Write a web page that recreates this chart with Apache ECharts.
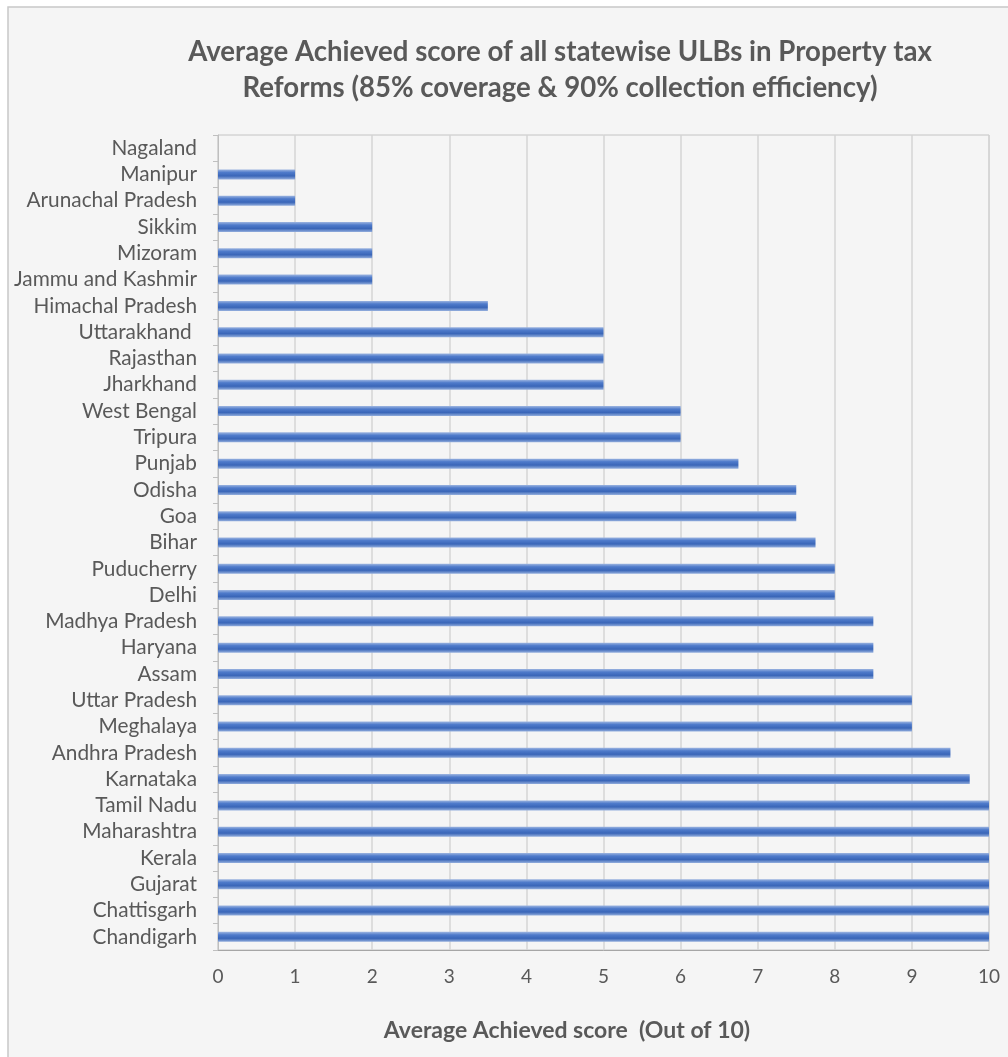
<!DOCTYPE html>
<html>
<head>
<meta charset="utf-8">
<script src="https://cdn.jsdelivr.net/npm/echarts@6/dist/echarts.min.js"></script>
<style>
  html, body { margin: 0; padding: 0; background: #ffffff; }
  #chart { width: 1008px; height: 1057px; }
</style>
</head>
<body>
<div id="chart"></div>
<script>
// States listed bottom-to-top as they appear on the category axis
const states = [
  'Chandigarh', 'Chattisgarh', 'Gujarat', 'Kerala', 'Maharashtra', 'Tamil Nadu',
  'Karnataka', 'Andhra Pradesh', 'Meghalaya', 'Uttar Pradesh', 'Assam', 'Haryana',
  'Madhya Pradesh', 'Delhi', 'Puducherry', 'Bihar', 'Goa', 'Odisha', 'Punjab',
  'Tripura', 'West Bengal', 'Jharkhand', 'Rajasthan', 'Uttarakhand ',
  'Himachal Pradesh', 'Jammu and Kashmir', 'Mizoram', 'Sikkim',
  'Arunachal Pradesh', 'Manipur', 'Nagaland'
];

// Average achieved score (out of 10) for each state
const scores = [
  10, 10, 10, 10, 10, 10,
  9.75, 9.5, 9, 9, 8.5, 8.5,
  8.5, 8, 8, 7.75, 7.5, 7.5, 6.75,
  6, 6, 5, 5, 5,
  3.5, 2, 2, 2,
  1, 1, 0
];

const titleLines = [
  'Average Achieved score of all statewise ULBs in Property tax',
  'Reforms (85% coverage & 90% collection efficiency)'
];
const axisTitle = 'Average Achieved score  (Out of 10)';

const FONT = 'Lato, "Open Sans", sans-serif';
const TEXT = '#595959';

const chart = echarts.init(document.getElementById('chart'), null, { renderer: 'canvas' });

chart.setOption({
  backgroundColor: '#ffffff',
  animation: false,
  graphic: [
    {
      type: 'rect',
      z: -10,
      shape: { x: 8, y: 7, width: 1010, height: 1060 },
      style: { fill: '#f5f5f5', stroke: '#c8c8c8', lineWidth: 1.5 }
    }
  ],
  title: [
    {
      text: titleLines.join('\n'),
      left: 555,
      textAlign: 'center',
      top: 29,
      textStyle: {
        fontFamily: FONT,
        fontSize: 27.6,
        fontWeight: 'bold',
        color: TEXT,
        lineHeight: 36
      }
    },
    {
      text: axisTitle,
      left: 562,
      textAlign: 'center',
      top: 1014,
      textStyle: {
        fontFamily: FONT,
        fontSize: 23,
        fontWeight: 'bold',
        color: TEXT
      }
    }
  ],
  grid: {
    left: 218,
    right: 19,
    top: 135,
    bottom: 107,
    show: true,
    borderColor: '#c4c4c4',
    borderWidth: 1
  },
  xAxis: {
    type: 'value',
    min: 0,
    max: 10,
    interval: 1,
    axisLine: { show: true, lineStyle: { color: '#a6a6a6' } },
    axisTick: { show: false },
    axisLabel: {
      margin: 17,
      fontFamily: FONT,
      fontSize: 19,
      color: TEXT
    },
    splitLine: { show: true, lineStyle: { color: '#d4d4d4', width: 1.5 } }
  },
  yAxis: {
    type: 'category',
    data: states,
    axisLine: { show: true, lineStyle: { color: '#bfbfbf' } },
    axisTick: { show: true, length: 5, lineStyle: { color: '#bfbfbf' } },
    axisLabel: {
      interval: 0,
      margin: 21,
      fontFamily: FONT,
      fontSize: 20.8,
      color: TEXT
    },
    splitLine: { show: false }
  },
  series: [
    {
      type: 'bar',
      data: scores,
      barWidth: 10,
      itemStyle: {
        color: new echarts.graphic.LinearGradient(0, 0, 0, 1, [
          { offset: 0, color: '#9db5e0' },
          { offset: 0.3, color: '#4f7bcb' },
          { offset: 0.65, color: '#3a66b8' },
          { offset: 1, color: '#93aedd' }
        ])
      }
    }
  ]
});
</script>
</body>
</html>
